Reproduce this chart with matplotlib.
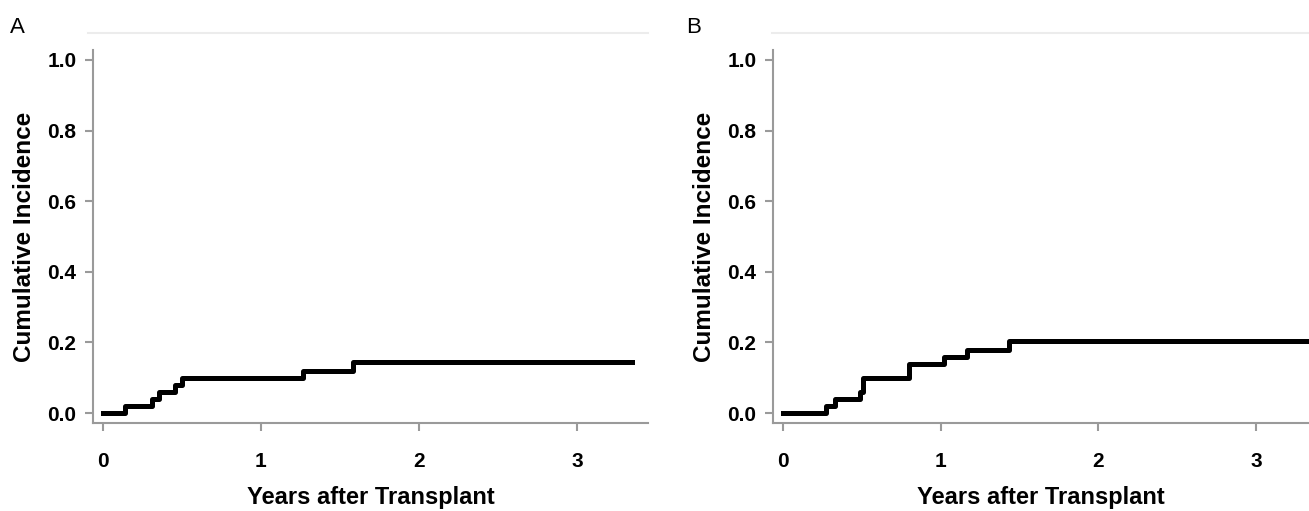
import matplotlib.pyplot as plt
from matplotlib.lines import Line2D

plt.rcParams['font.family'] = ['Liberation Sans', 'DejaVu Sans']

# Data
years_a = [0, 0.14, 0.31, 0.355, 0.455, 0.50, 1.266, 1.58, 3.35]
incidence_a = [0, 0.02, 0.04, 0.06, 0.08, 0.10, 0.12, 0.145, 0.145]

years_b = [0, 0.27, 0.33, 0.49, 0.51, 0.80, 1.02, 1.165, 1.43, 3.45]
incidence_b = [0, 0.02, 0.04, 0.06, 0.10, 0.14, 0.16, 0.18, 0.205, 0.205]

x_ticks = [0, 1, 2, 3]
y_ticks = [0.0, 0.2, 0.4, 0.6, 0.8, 1.0]

W, H = 1309, 511
fig = plt.figure(figsize=(W / 100, H / 100), dpi=100)

def px_axes(left, right, top, bottom):
    return fig.add_axes([left / W, 1 - bottom / H, (right - left) / W, (bottom - top) / H])

ax_a = px_axes(93, 648, 50, 423)
ax_b = px_axes(773, 1309, 50, 423)

spine_col = '#9a9a9a'

for ax, xs, ys, xmax in [(ax_a, years_a, incidence_a, 3.45), (ax_b, years_b, incidence_b, 3.335)]:
    ax.step(xs, ys, where='post', color='black', linewidth=3.6)
    ax.set_xlim(-0.063, xmax)
    ax.set_ylim(-0.028, 1.028)
    ax.set_xticks(x_ticks)
    ax.set_yticks(y_ticks)
    ax.set_yticklabels([f'{v:.1f}' for v in y_ticks])
    for s in ['top', 'right']:
        ax.spines[s].set_visible(False)
    for s in ['left', 'bottom']:
        ax.spines[s].set_color(spine_col)
        ax.spines[s].set_linewidth(1.5)
    ax.tick_params(direction='out', length=6, width=1.5, color=spine_col, labelsize=15)
    ax.tick_params(axis='x', pad=15)
    ax.tick_params(axis='y', pad=6)
    for lab in ax.get_xticklabels() + ax.get_yticklabels():
        lab.set_fontweight('bold')
    ax.set_xlabel('Years after Transplant', fontsize=17, fontweight='bold', labelpad=11)
    ax.set_ylabel('Cumulative Incidence', fontsize=17.5, fontweight='bold', labelpad=8)

# faint top rules and panel letters
fig.add_artist(Line2D([88 / W, 648 / W], [1 - 33 / H, 1 - 33 / H], color='#ececec', linewidth=1.5))
fig.add_artist(Line2D([772 / W, 1.0], [1 - 33 / H, 1 - 33 / H], color='#ececec', linewidth=1.5))
fig.text(10 / W, 1 - 27 / H, 'A', fontsize=16, va='center', ha='left')
fig.text(686 / W, 1 - 27 / H, 'B', fontsize=16, va='center', ha='left')

plt.savefig('out.png', dpi=100)
